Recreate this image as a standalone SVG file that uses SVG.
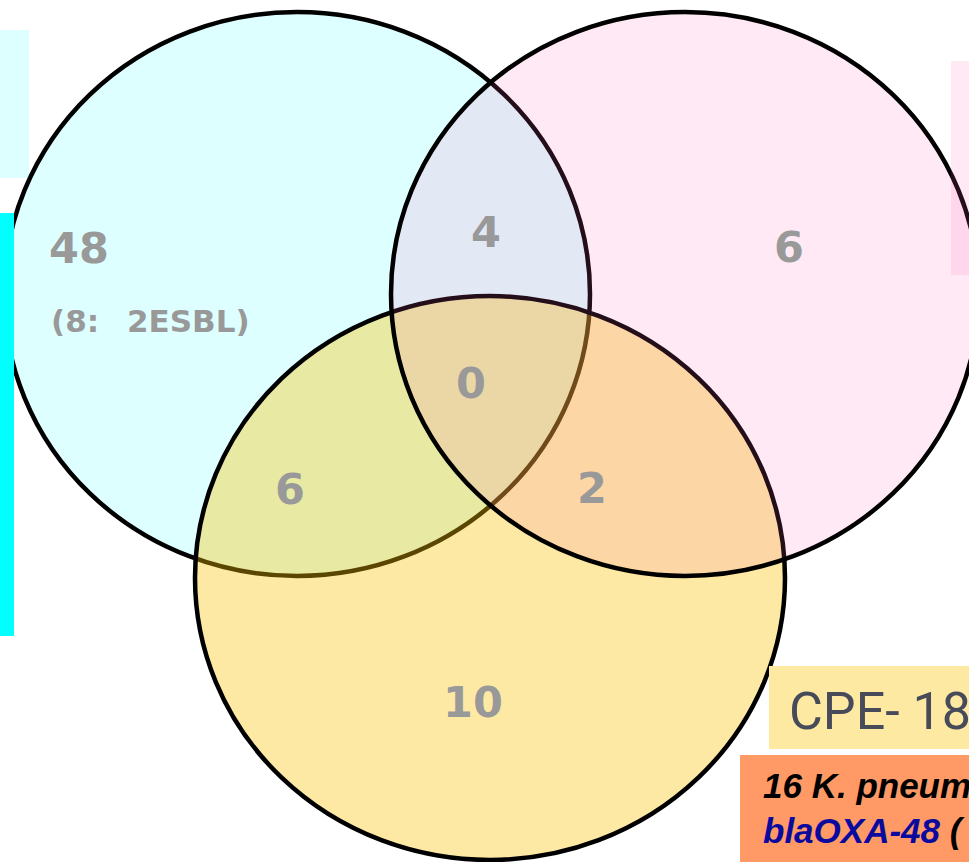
<svg xmlns="http://www.w3.org/2000/svg" width="969" height="862" viewBox="0 0 969 862">
<style>
.circ{stroke:#000;stroke-width:4.5}
.cy{fill:#00ffff;fill-opacity:0.13}
.pk{fill:#ff66bb;fill-opacity:0.14}
.ye{fill:#f9c200;fill-opacity:0.36}
.num{font-family:"DejaVu Sans",Verdana,sans-serif;font-weight:bold;fill:#999999;font-size:43px;text-anchor:middle}
.sub{font-family:"DejaVu Sans",Verdana,sans-serif;font-weight:bold;fill:#999999;font-size:31px}
.cpe{font-family:Roboto,"Open Sans",sans-serif;font-weight:400;fill:#464a59;font-size:52px}
.note{font-family:"Liberation Sans",Arial,sans-serif;font-weight:bold;font-style:italic;font-size:35px;fill:#000}
</style>
<rect width="969" height="862" fill="#ffffff"/>
<g id="set-cyan">
<ellipse class="circ cy" cx="297" cy="294" rx="293" ry="282"/>
</g>
<g id="set-yellow">
<ellipse class="circ ye" cx="490" cy="578" rx="295" ry="282"/>
</g>
<g id="set-pink">
<ellipse class="circ pk" cx="685" cy="294" rx="294" ry="282"/>
</g>
<g id="legend-left">
<rect class="cy" x="0" y="30" width="29" height="148"/>
<rect x="0" y="213" width="14" height="423" fill="#00ffff"/>
</g>
<g id="legend-right">
<rect class="pk" x="951" y="61" width="18" height="214"/>
</g>
<g id="connectors"/>
<g id="labels">
<text class="num" x="79" y="263">48</text>
<text class="sub" x="51" y="332">(8: <tspan dx="17">2ESBL)</tspan></text>
<text class="num" x="486" y="247">4</text>
<text class="num" x="789" y="262">6</text>
<text class="num" x="471" y="398">0</text>
<text class="num" x="290" y="504">6</text>
<text class="num" x="592" y="503">2</text>
<text class="num" x="473" y="717">10</text>
</g>
<g id="cpe-box">
<rect x="769" y="666" width="200" height="83" fill="#fde9a2"/>
<text class="cpe" x="789" y="729">CPE- 18</text>
</g>
<g id="kp-box">
<rect x="740" y="755" width="229" height="107" fill="#ff9966"/>
<text class="note" x="763" y="798">16 K. pneum</text>
<text class="note" x="763" y="843"><tspan fill="#0a0a9e">blaOXA-48</tspan> (</text>
</g>
</svg>
